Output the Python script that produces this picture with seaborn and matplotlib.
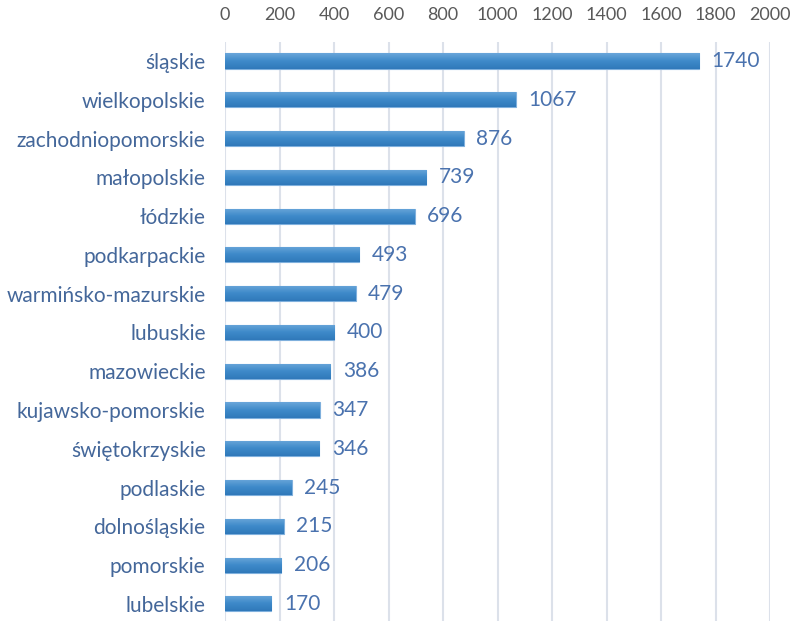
import matplotlib
matplotlib.use("Agg")
import matplotlib.pyplot as plt
import seaborn as sns
import numpy as np
import pandas as pd
from matplotlib.colors import LinearSegmentedColormap

regions = ["śląskie", "wielkopolskie", "zachodniopomorskie", "małopolskie", "łódzkie",
           "podkarpackie", "warmińsko-mazurskie", "lubuskie", "mazowieckie",
           "kujawsko-pomorskie", "świętokrzyskie", "podlaskie", "dolnośląskie",
           "pomorskie", "lubelskie"]
values = [1740, 1067, 876, 739, 696, 493, 479, 400, 386, 347, 346, 245, 215, 206, 170]
xticks = [0, 200, 400, 600, 800, 1000, 1200, 1400, 1600, 1800, 2000]

df = pd.DataFrame({"region": regions, "value": values})

sns.set_theme(style="white")
plt.rcParams['font.family'] = ['Lato', 'DejaVu Sans']

fig = plt.figure(figsize=(7.9, 6.21), dpi=100)
ax = fig.add_axes([225/790, 0.0, (770-225)/790, 1 - 42/621])

sns.barplot(data=df, y="region", x="value", orient="h", color="#3C87C8",
            width=0.39, ax=ax, zorder=3, edgecolor="#7FB0DD", linewidth=0.8)

# vertical gradient on each bar
cmap = LinearSegmentedColormap.from_list("g", ["#6AA6DA", "#3E8AC9", "#3079BA"])
grad = np.linspace(0, 1, 64).reshape(-1, 1)
for p in ax.patches:
    x0, y0 = p.get_x(), p.get_y()
    w, h = p.get_width(), p.get_height()
    im = ax.imshow(grad, cmap=cmap, aspect="auto", extent=(x0, x0 + w, y0 + h, y0),
                   zorder=3.5, interpolation="bilinear")
    im.set_clip_path(p)

ax.set_xlim(0, 2000)
ax.set_ylim(14.44, -0.49)
ax.set_xticks(xticks)
ax.xaxis.tick_top()
ax.tick_params(axis="x", length=0, pad=14, labelsize=13, labelcolor="#595959")
ax.tick_params(axis="y", length=0, pad=14, labelsize=15, labelcolor="#44679A")
ax.grid(axis="x", color="#DCE1EA", linewidth=1.5, zorder=0)
ax.set_axisbelow(True)
for s in ax.spines.values():
    s.set_visible(False)
ax.set_xlabel("")
ax.set_ylabel("")

for i, v in enumerate(values):
    ax.annotate(str(v), xy=(v, i), xytext=(9, 0), textcoords="offset points",
                va="center", ha="left", fontsize=15, color="#4A72AE")

fig.savefig("out.png", dpi=100)
